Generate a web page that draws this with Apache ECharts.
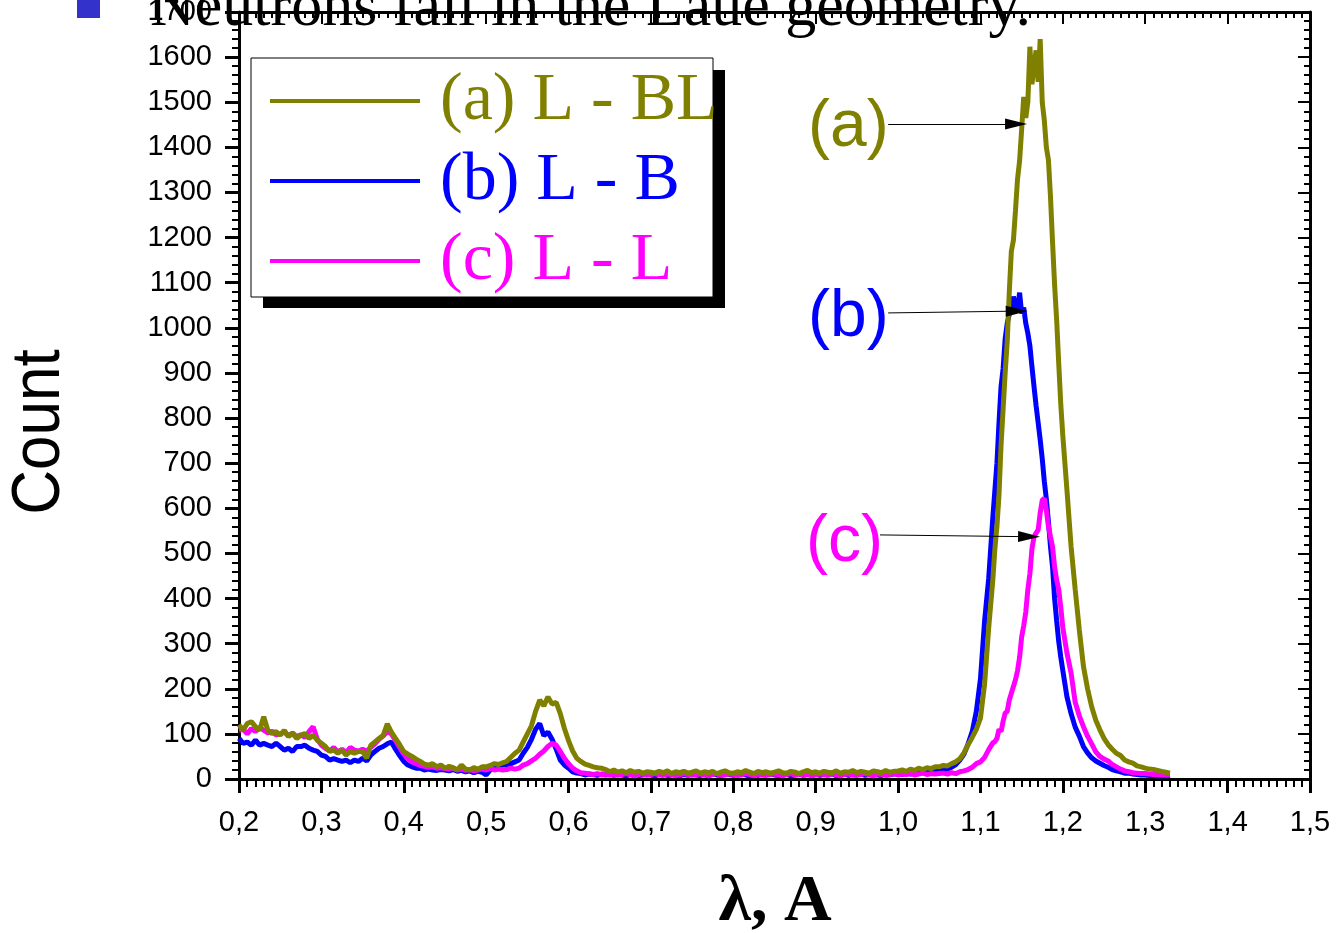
<!DOCTYPE html>
<html><head><meta charset="utf-8">
<script src="https://cdn.jsdelivr.net/npm/echarts@6/dist/echarts.min.js"></script>
<style>html,body{margin:0;padding:0;background:#fff}#c{width:1337px;height:933px}</style>
</head><body><div id="c"></div>
<script>
// wavelength grid (Å)
const X = [
0.2,0.205,0.21,0.215,0.22,0.225,0.23,0.235,0.24,0.245,
0.25,0.255,0.26,0.265,0.27,0.275,0.28,0.285,0.29,0.295,
0.3,0.305,0.31,0.315,0.32,0.325,0.33,0.335,0.34,0.345,
0.35,0.355,0.36,0.365,0.37,0.375,0.38,0.385,0.39,0.395,
0.4,0.405,0.41,0.415,0.42,0.425,0.43,0.435,0.44,0.445,
0.45,0.455,0.46,0.465,0.47,0.475,0.48,0.485,0.49,0.495,
0.5,0.505,0.51,0.515,0.52,0.525,0.53,0.535,0.54,0.545,
0.55,0.555,0.56,0.565,0.57,0.575,0.58,0.585,0.59,0.595,
0.6,0.605,0.61,0.615,0.62,0.625,0.63,0.635,0.64,0.645,
0.65,0.655,0.66,0.665,0.67,0.675,0.68,0.685,0.69,0.695,
0.7,0.705,0.71,0.715,0.72,0.725,0.73,0.735,0.74,0.745,
0.75,0.755,0.76,0.765,0.77,0.775,0.78,0.785,0.79,0.795,
0.8,0.805,0.81,0.815,0.82,0.825,0.83,0.835,0.84,0.845,
0.85,0.855,0.86,0.865,0.87,0.875,0.88,0.885,0.89,0.895,
0.9,0.905,0.91,0.915,0.92,0.925,0.93,0.935,0.94,0.945,
0.95,0.955,0.96,0.965,0.97,0.975,0.98,0.985,0.99,0.995,
1.0,1.005,1.01,1.015,1.02,1.025,1.03,1.035,1.04,1.045,
1.05,1.055,1.06,1.065,1.07,1.075,1.08,1.085,1.09,1.095,
1.1,1.105,1.11,1.115,
1.1175,1.12,1.1225,1.125,1.1275,1.13,1.1325,1.135,1.1375,1.14,1.1425,
1.145,1.1475,1.15,1.1525,1.155,1.1575,1.16,1.1625,1.165,1.1675,1.17,
1.1725,1.175,1.1775,1.18,1.1825,1.185,1.1875,1.19,1.1925,1.195,1.1975,
1.2,1.205,1.21,1.215,1.22,1.225,1.23,1.235,1.24,1.245,
1.25,1.255,1.26,1.265,1.27,1.275,1.28,1.285,1.29,1.295,
1.3,1.305,1.31,1.315,1.32,1.325,1.33
];
// (a) L - BL
const A = [
120,108,123,127,116,108,138,108,101,105,
97,108,94,101,90,97,101,90,97,86,
79,72,61,64,57,64,53,61,57,61,
61,46,75,82,90,97,122,104,90,76,
61,55,50,44,39,33,31,34,27,31,
24,28,25,20,31,22,20,25,22,27,
27,30,34,32,36,39,48,57,64,82,
100,118,150,175,162,182,166,170,145,112,
85,62,46,39,33,30,27,25,24,21,
16,20,15,18,14,19,15,17,13,16,
15,13,17,14,18,12,16,14,17,13,
15,18,13,16,14,17,12,15,18,14,
13,16,14,19,15,12,17,14,16,13,
15,18,14,13,17,15,12,16,19,14,
16,13,17,15,14,18,13,16,15,19,
14,17,15,13,18,16,14,19,15,17,
18,20,17,22,19,24,21,25,23,27,
27,30,29,34,38,45,58,76,92,110,
135,210,335,441,
510,560,630,740,820,900,970,1080,1170,1194,1260,
1330,1370,1440,1512,1465,1500,1623,1540,1580,1615,1545,
1640,1500,1460,1400,1372,1290,1190,1095,1017,921,830,
760,640,515,420,330,250,200,160,130,109,
90,76,66,57,52,42,38,35,29,27,
24,22,21,19,17,15,13
];
// (b) L - B
const B = [
90,79,82,75,86,75,79,75,72,79,
72,64,68,61,72,72,75,68,64,61,
53,50,42,45,42,39,42,36,42,39,
46,40,53,61,68,72,78,82,66,52,
39,31,27,24,24,20,22,20,19,21,
20,18,21,17,19,16,18,14,17,15,
9,20,27,29,31,32,34,38,42,57,
70,88,110,123,96,104,88,66,42,31,
24,16,13,12,9,11,10,8,11,9,
10,8,11,9,7,10,12,8,9,11,
9,7,10,12,8,9,11,7,10,8,
11,9,8,10,7,12,9,8,11,10,
8,10,12,9,7,11,8,10,9,12,
9,8,11,10,7,9,12,8,10,9,
11,8,10,9,12,7,9,11,8,10,
9,12,8,10,11,9,8,12,10,11,
12,10,13,11,14,12,15,14,17,16,
18,20,22,26,32,42,55,78,105,150,
222,350,445,580,
640,700,790,870,910,976,1010,1030,1046,1069,1050,
1039,1078,1032,1045,1010,988,960,914,870,828,790,
752,710,660,620,570,515,470,400,350,305,270,
240,182,145,115,95,72,58,47,40,35,
30,26,21,18,16,13,13,11,10,9,
9,8,8,7,8,7,8
];
// (c) L - L
const C = [
108,110,100,112,105,115,108,102,106,98,
100,104,96,102,94,98,92,105,116,88,
75,68,62,70,60,66,58,70,64,62,
66,62,70,78,88,95,105,100,85,70,
55,45,38,34,30,28,26,27,24,25,
23,22,24,20,22,19,21,18,20,22,
20,24,20,22,20,21,24,22,24,31,
34,40,46,55,62,72,79,75,61,46,
34,24,18,14,13,11,10,12,9,11,
9,11,8,10,12,9,7,10,11,8,
10,12,9,8,11,10,7,9,12,10,
8,10,11,9,7,10,12,8,9,11,
10,8,9,12,10,7,11,9,8,10,
11,9,7,10,12,8,10,9,11,7,
9,11,10,8,12,9,7,10,11,9,
8,10,12,9,7,11,10,8,9,12,
9,11,10,12,9,11,13,10,12,11,
12,13,11,14,12,16,18,21,26,34,
38,48,65,80,
83,90,110,105,128,146,150,175,190,205,220,
240,270,315,340,370,420,455,510,537,545,552,
590,618,622,595,560,537,515,470,441,420,380,
335,279,235,170,140,116,95,78,60,50,
44,40,32,27,22,18,16,14,13,12,
12,11,10,10,9,9,9
];
const NAMES = ['(a) L - BL', '(b) L - B', '(c) L - L'];
const TAGS = ['(a)', '(b)', '(c)'];
// arrow start/end in data units (λ, count)
const ARROWS = [
  [[0.988, 1452], [1.1432, 1452]],
  [[0.988, 1033], [1.144, 1037]],
  [[0.978, 541], [1.159, 537]]
];
const COLORS = ['#808000', '#0000ff', '#ff00ff'];

const chart = echarts.init(document.getElementById('c'), null, {renderer: 'canvas'});
const pairs = ys => X.map((x, i) => [x, ys[i]]);
const axisCommon = {
  axisLine: {show: true, onZero: false, lineStyle: {color: '#000', width: 3}},
  splitLine: {show: false}
};
const lblFont = {fontFamily: '"Liberation Sans", Arial, sans-serif', fontSize: 29, color: '#000'};

function mkSeries(name, ys, color, z, extra) {
  return Object.assign({
    name, type: 'line', data: pairs(ys), z,
    showSymbol: false, symbol: 'none', silent: true, animation: false,
    lineStyle: {color, width: 5}, itemStyle: {color}
  }, extra || {});
}

chart.setOption({
  animation: false,
  backgroundColor: '#fff',
  grid: {left: 239, right: 27, top: 12, bottom: 154, containLabel: false, outerBoundsMode: 'none'},
  xAxis: [
    Object.assign({type: 'value', min: 0.2, max: 1.5, interval: 0.1, position: 'bottom',
      axisTick: {show: true, inside: false, length: 14, lineStyle: {color: '#000', width: 3}},
      minorTick: {show: true, splitNumber: 10, length: 8, lineStyle: {color: '#000', width: 2}},
      axisLabel: Object.assign({margin: 29, formatter: v => v.toFixed(1).replace('.', ',')}, lblFont)
    }, axisCommon),
    Object.assign({type: 'value', min: 0.2, max: 1.5, interval: 0.1, position: 'top',
      axisTick: {show: true, inside: true, length: 12, lineStyle: {color: '#000', width: 2}},
      minorTick: {show: true, splitNumber: 10, length: 6, lineStyle: {color: '#000', width: 2}},
      axisLabel: {show: false}
    }, axisCommon)
  ],
  yAxis: [
    Object.assign({type: 'value', min: 0, max: 1700, interval: 100, position: 'left',
      axisTick: {show: true, inside: false, length: 14, lineStyle: {color: '#000', width: 3}},
      minorTick: {show: true, splitNumber: 5, length: 7, lineStyle: {color: '#000', width: 2}},
      axisLabel: Object.assign({margin: 27, formatter: v => String(Math.round(v))}, lblFont)
    }, axisCommon),
    Object.assign({type: 'value', min: 0, max: 1700, interval: 100, position: 'right',
      axisTick: {show: true, inside: true, length: 12, lineStyle: {color: '#000', width: 2}},
      minorTick: {show: true, splitNumber: 5, length: 6, lineStyle: {color: '#000', width: 2}},
      axisLabel: {show: false}
    }, axisCommon)
  ],
  legend: {
    data: NAMES.map((n, i) => ({name: n, textStyle: {color: COLORS[i]}})),
    orient: 'vertical', left: 270, top: 61, padding: 0,
    itemWidth: 150, itemHeight: 4, itemGap: 0,
    icon: 'rect', selectedMode: false, z: 10,
    textStyle: {fontFamily: '"Liberation Serif", "Times New Roman", serif', fontSize: 68, lineHeight: 80, padding: [0, 0, 0, 15]}
  },
  series: [
    mkSeries(NAMES[1], B, COLORS[1], 2),
    mkSeries(NAMES[2], C, COLORS[2], 3),
    mkSeries(NAMES[0], A, COLORS[0], 4, {
      markLine: {
        silent: true, animation: false,
        symbol: ['none', 'triangle'], symbolSize: [11, 22],
        label: {show: false},
        lineStyle: {color: '#000', width: 1, type: 'solid'},
        emphasis: {disabled: true},
        data: ARROWS.map(a => [{coord: a[0]}, {coord: a[1]}])
      }
    })
  ],
  graphic: [
    {type: 'rect', z: 5, shape: {x: 263, y: 70, width: 462, height: 238}, style: {fill: '#000'}},
    {type: 'rect', z: 6, shape: {x: 251, y: 58, width: 462, height: 239}, style: {fill: '#fff', stroke: '#000', lineWidth: 1}},
    {type: 'rect', z: 50, shape: {x: 77, y: -5, width: 23, height: 23}, style: {fill: '#3333cc'}},
    {type: 'text', z: 50, x: 150, y: 9, style: {text: 'Neutrons fall in the Laue geometry.', font: '62px "Liberation Serif", serif', fill: '#000', align: 'left', verticalAlign: 'middle'}},
    {type: 'text', z: 50, x: 40, y: 432, rotation: Math.PI / 2, scaleY: 1.12, style: {text: 'Count', font: '62px "Liberation Sans", Arial, sans-serif', fill: '#000', align: 'center', verticalAlign: 'middle'}},
    {type: 'text', z: 50, x: 775, y: 903, style: {text: 'λ, A', font: 'bold 66px "Liberation Serif", serif', fill: '#000', align: 'center', verticalAlign: 'middle'}},
    {type: 'text', z: 50, x: 808, y: 128, style: {text: TAGS[0], font: '66px "Liberation Sans", Arial, sans-serif', fill: COLORS[0], align: 'left', verticalAlign: 'middle'}},
    {type: 'text', z: 50, x: 808, y: 318, style: {text: TAGS[1], font: '66px "Liberation Sans", Arial, sans-serif', fill: COLORS[1], align: 'left', verticalAlign: 'middle'}},
    {type: 'text', z: 50, x: 806, y: 543, style: {text: TAGS[2], font: '66px "Liberation Sans", Arial, sans-serif', fill: COLORS[2], align: 'left', verticalAlign: 'middle'}}
  ]
});
</script>
</body></html>
